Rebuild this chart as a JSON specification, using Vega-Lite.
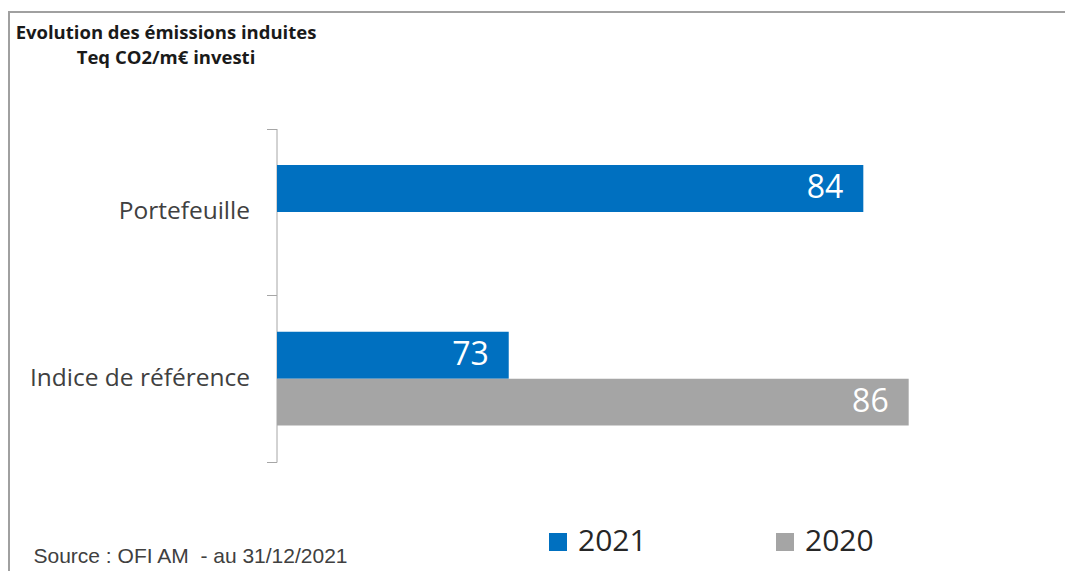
{
  "$schema": "https://vega.github.io/schema/vega-lite/v6.json",
  "autosize": {"type": "none"},
  "padding": {"left": 9, "top": 12, "right": -44, "bottom": -30},
  "width": 1100,
  "height": 589,
  "background": "white",
  "title": {
    "text": ["Evolution des émissions induites", "Teq CO2/m€ investi"],
    "anchor": "start",
    "frame": "group",
    "align": "center",
    "baseline": "top",
    "dx": 157,
    "offset": -68,
    "font": "Open Sans",
    "fontSize": 18.5,
    "fontWeight": "bold",
    "color": "#1a1a1a",
    "lineHeight": 25
  },
  "data": {
    "values": [
      {"cat": "Portefeuille", "year": "2021", "length": 84, "label": "84"},
      {"cat": "Indice de référence", "year": "2021", "length": 33.2, "label": "73"},
      {"cat": "Indice de référence", "year": "2020", "length": 90.5, "label": "86"}
    ]
  },
  "encoding": {
    "y": {
      "field": "cat",
      "type": "nominal",
      "scale": {"domain": ["Portefeuille", "Indice de référence"], "range": [116.5, 450], "paddingInner": 0, "paddingOuter": 0},
      "axis": {
        "title": null,
        "offset": -267.5,
        "tickBand": "extent",
        "domainColor": "#a6a6a6",
        "tickColor": "#a6a6a6",
        "tickSize": 10,
        "labelPadding": 17,
        "labelLimit": 400,
        "labelFont": "Open Sans",
        "labelFontSize": 24.5,
        "labelColor": "#404040",
        "grid": false
      }
    },
    "yOffset": {
      "field": "year",
      "type": "nominal",
      "scale": {"domain": ["2021", "2020"], "paddingInner": 0, "paddingOuter": 0.777}
    },
    "x": {
      "field": "length",
      "type": "quantitative",
      "scale": {"domain": [0, 100], "range": [268, 966], "zero": true, "nice": false},
      "axis": {
        "domain": false,
        "ticks": false,
        "labels": false,
        "grid": false,
        "title": "Source : OFI AM\u00a0 - au 31/12/2021",
        "titleX": 24,
        "titleY": -39,
        "titleAlign": "left",
        "titleBaseline": "alphabetic",
        "titleFont": "Liberation Sans",
        "titleFontSize": 21,
        "titleFontWeight": "normal",
        "titleColor": "#404040"
      }
    }
  },
  "layer": [
    {
      "mark": {"type": "bar"},
      "encoding": {
        "color": {
          "field": "year",
          "type": "nominal",
          "scale": {"domain": ["2021", "2020"], "range": ["#0070C0", "#A5A5A5"]},
          "legend": {
            "title": null,
            "orient": "none",
            "legendX": 534,
            "legendY": 515,
            "direction": "horizontal",
            "symbolType": "square",
            "symbolSize": 324,
            "symbolStrokeWidth": 0,
            "labelFont": "Open Sans",
            "labelFontSize": 30,
            "labelColor": "#262626",
            "labelOffset": 5,
            "columnPadding": 123,
            "padding": 0
          }
        }
      }
    },
    {
      "mark": {"type": "text", "align": "right", "baseline": "middle", "dx": -20, "color": "white", "font": "Open Sans", "fontSize": 32},
      "encoding": {
        "text": {"field": "label", "type": "nominal"}
      }
    }
  ],
  "config": {
    "view": {"stroke": "#a0a0a0", "strokeWidth": 2}
  }
}
